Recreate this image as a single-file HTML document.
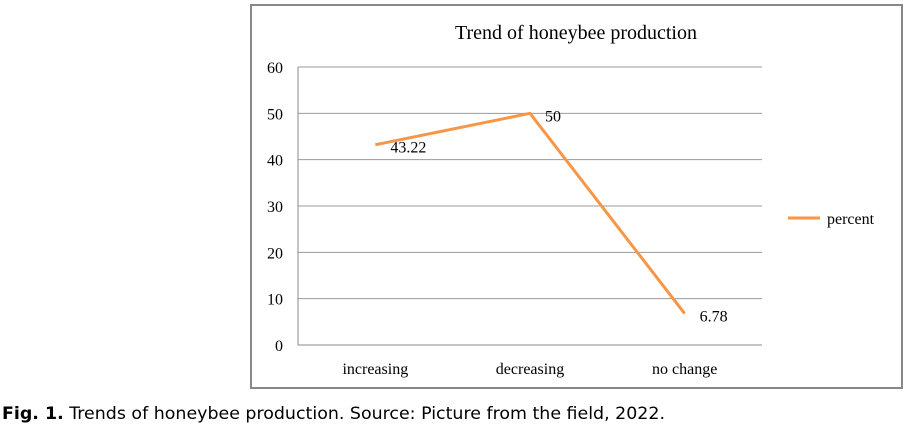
<!DOCTYPE html>
<html><head><meta charset="utf-8"><style>
html,body{margin:0;padding:0;background:#fff;}
svg{display:block;}
</style></head><body>
<svg id="chart" width="906" height="431" xmlns="http://www.w3.org/2000/svg">
<rect x="251" y="5" width="651" height="383" fill="#fff" stroke="#888" stroke-width="2"/>
<text x="576" y="39" text-anchor="middle" font-family="Liberation Serif, serif" font-size="20">Trend of honeybee production</text>
<g id="grid"></g><g id="axes"></g><g id="series"></g>
<g>
<line x1="788" y1="218" x2="820" y2="218" stroke="#F79646" stroke-width="3"/>
<text x="827" y="224" font-family="Liberation Serif, serif" font-size="16">percent</text>
</g>
<text x="2" y="419" font-family="DejaVu Sans, sans-serif" font-size="17" textLength="663" lengthAdjust="spacingAndGlyphs"><tspan font-weight="bold">Fig. 1.</tspan> Trends of honeybee production. Source: Picture from the field, 2022.</text>
</svg>
<script>
const categories=["increasing","decreasing","no change"];
const values=[43.22,50,6.78];
const valueLabels=["43.22","50","6.78"];
const yTicks=[0,10,20,30,40,50,60];
const NS="http://www.w3.org/2000/svg";
const L=298,R=762,T=67,B=345,yMax=60;
const y=v=>B-(v/yMax)*(B-T);
const x=i=>L+(i+0.5)*(R-L)/categories.length;
function mk(tag,attrs,parent,txt){const e=document.createElementNS(NS,tag);for(const k in attrs)e.setAttribute(k,attrs[k]);if(txt!==undefined)e.textContent=txt;parent.appendChild(e);return e;}
const grid=document.getElementById('grid'),axes=document.getElementById('axes'),ser=document.getElementById('series');
yTicks.forEach(t=>{
 const ln=mk('line',{x1:L,x2:R,y1:y(t),y2:y(t),stroke:t===0?'#888':'#999','stroke-width':1},grid);
 
 
 const tx=mk('text',{x:283,y:y(t)+6,'text-anchor':'end','font-family':'Liberation Serif, serif','font-size':16},axes,String(t));
 
 
});
const lv=mk('line',{x1:L,x2:L,y1:T,y2:B,stroke:'#888','stroke-width':1},axes);


categories.forEach((c,i)=>{
 const tx=mk('text',{x:x(i),y:374,'text-anchor':'middle','font-family':'Liberation Serif, serif','font-size':16},axes,c);
 
 
});
const pts=values.map((v,i)=>x(i)+','+y(v)).join(' ');
const pl=mk('polyline',{points:pts,fill:'none',stroke:'#F79646','stroke-width':3,'stroke-linejoin':'round'},ser);


values.forEach((v,i)=>{
 const tx=mk('text',{x:x(i)+15,y:y(v)+8,'font-family':'Liberation Serif, serif','font-size':16},ser,valueLabels[i]);
 
 
});
</script>
</body></html>
